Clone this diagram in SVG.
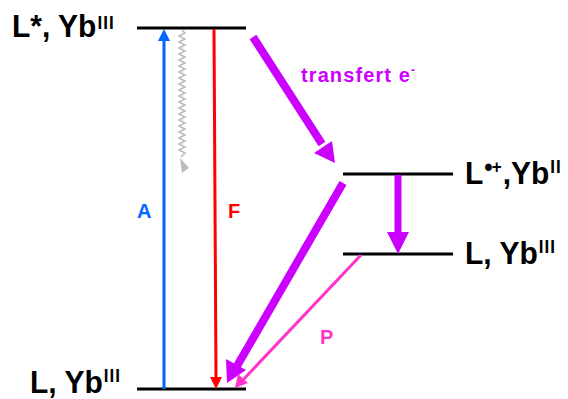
<svg xmlns="http://www.w3.org/2000/svg" width="568" height="399" viewBox="0 0 568 399">
<style>
.lvl{stroke:#000;stroke-width:3;fill:none}
.lbl{font-family:"Liberation Sans",Arial,sans-serif;font-weight:bold;font-size:30px;fill:#000}
.sup{font-size:17px;letter-spacing:1px}
.small{font-family:"Liberation Sans",Arial,sans-serif;font-weight:bold;font-size:20px}
</style>
<rect width="568" height="399" fill="#fff"/>
<g id="level-top">
<line class="lvl" x1="137" y1="28" x2="246" y2="28"/>
<text class="lbl" x="12" y="37" transform="translate(0,37) scale(1,1.05) translate(0,-37)">L*, Yb<tspan class="sup" dx="1" dy="-8">III</tspan></text>
</g>
<g id="level-bottom">
<line class="lvl" x1="137" y1="389" x2="246" y2="389"/>
<text class="lbl" x="30" y="393" transform="translate(0,393) scale(1,1.05) translate(0,-393)">L, Yb<tspan class="sup" dx="1" dy="-10">III</tspan></text>
</g>
<g id="level-radical">
<line class="lvl" x1="343" y1="174" x2="453" y2="174"/>
<text class="lbl" x="465" y="184" transform="translate(0,184) scale(1,1.05) translate(0,-184)">L<tspan font-size="24" dx="1" dy="-8">•</tspan><tspan class="sup" dx="-1" dy="-2">+</tspan><tspan dy="10">,Yb</tspan><tspan class="sup" dx="1" dy="-10">II</tspan></text>
</g>
<g id="level-mid">
<line class="lvl" x1="343" y1="254" x2="453" y2="254"/>
<text class="lbl" x="465" y="264" transform="translate(0,264) scale(1,1.05) translate(0,-264)">L, Yb<tspan class="sup" dx="1" dy="-10">III</tspan></text>
</g>
<g id="connectors">
<!-- A absorption -->
<line x1="164" y1="389" x2="164" y2="38" stroke="#0066ff" stroke-width="3"/>
<polygon points="164,29 158,41 170,41" fill="#0066ff"/>
<text class="small" x="137" y="218" fill="#0066ff">A</text>
<!-- F fluorescence -->
<line x1="214" y1="29" x2="216" y2="379" stroke="#ff0000" stroke-width="3"/>
<polygon points="216,389 210,377 222,377" fill="#ff0000"/>
<text class="small" x="228" y="218" fill="#ff0000">F</text>
<!-- grey wavy -->
<polyline fill="none" stroke="#bbbbbb" stroke-width="1.5" points="182,30 185,33 179,36 185,39 179,42 185,45 179,48 185,51 179,54 185,57 179,60 185,63 179,66 185,69 179,72 185,75 179,78 185,81 179,84 185,87 179,90 185,93 179,96 185,99 179,102 185,105 179,108 185,111 179,114 185,117 179,120 185,123 179,126 185,129 179,132 185,135 179,138 185,141 179,144 185,147 179,150 185,153 181,157"/>
<polygon points="180,158 189,168 182,173" fill="#bbbbbb"/>
<!-- transfert e- -->
<line x1="253" y1="37" x2="322" y2="144" stroke="#cc00ff" stroke-width="8"/>
<polygon points="335,163 314,153 332,141" fill="#cc00ff"/>
<text class="small" x="301" y="82" fill="#cc00ff" font-size="19" letter-spacing="1.1">transfert e<tspan font-size="12" dy="-8">-</tspan></text>
<!-- radical -> bottom -->
<line x1="343" y1="183" x2="237" y2="366" stroke="#cc00ff" stroke-width="8"/>
<polygon points="227,383 226,359 246,370" fill="#cc00ff"/>
<!-- vertical purple -->
<line x1="398" y1="175" x2="398" y2="234" stroke="#cc00ff" stroke-width="7"/>
<polygon points="398,254 387,232 409,232" fill="#cc00ff"/>
<!-- P phosphorescence -->
<line x1="361" y1="255" x2="242" y2="381" stroke="#ff33cc" stroke-width="3"/>
<polygon points="235,388 238,374 248,383" fill="#ff33cc"/>
<text class="small" x="320" y="344" fill="#ff33cc">P</text>
</g>
</svg>
